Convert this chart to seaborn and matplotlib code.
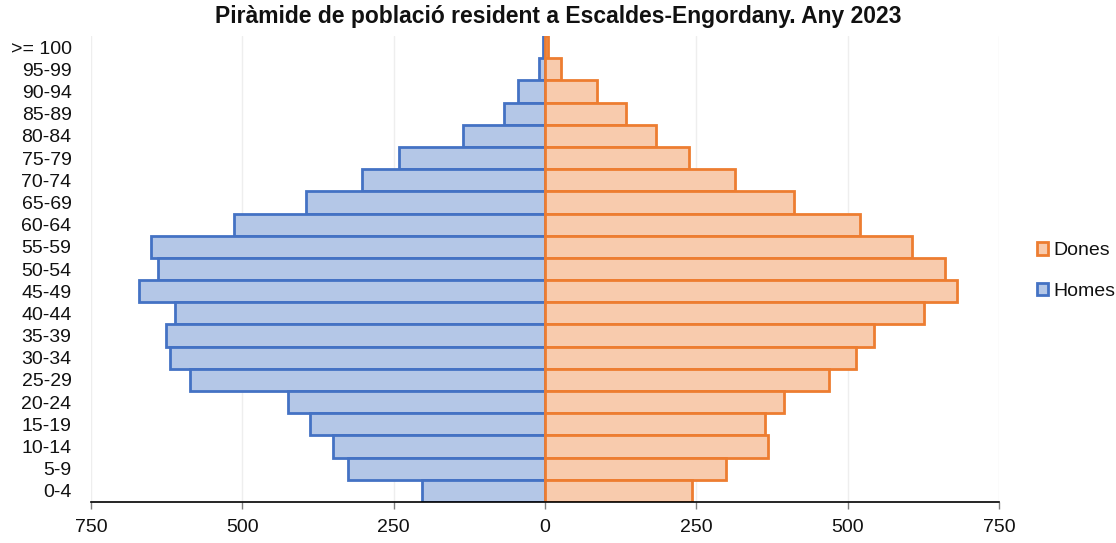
import matplotlib
matplotlib.use("Agg")
import matplotlib.pyplot as plt
from matplotlib.patches import Patch
import seaborn as sns
import pandas as pd

ages = [">= 100", "95-99", "90-94", "85-89", "80-84", "75-79", "70-74", "65-69",
        "60-64", "55-59", "50-54", "45-49", "40-44", "35-39", "30-34", "25-29",
        "20-24", "15-19", "10-14", "5-9", "0-4"]
homes = [3, 10, 45, 67, 135, 241, 302, 394, 514, 651, 639, 671, 612, 626, 619,
         587, 425, 388, 351, 325, 204]
dones = [5, 27, 86, 133, 184, 238, 314, 412, 520, 606, 660, 680, 626, 544, 513,
         469, 395, 363, 368, 299, 243]
xticks = [-750, -500, -250, 0, 250, 500, 750]
title = "Piràmide de població resident a Escaldes-Engordany. Any 2023"

sns.set_theme(style="white")
plt.rcParams["font.family"] = ["Liberation Sans", "DejaVu Sans"]

df_h = pd.DataFrame({"age": ages, "value": [-v for v in homes]})
df_d = pd.DataFrame({"age": ages, "value": dones})

fig = plt.figure(figsize=(11.16, 5.43), dpi=100)
ax = fig.add_axes([91 / 1116, 1 - 502 / 543, (999 - 91) / 1116, (502 - 36) / 543])

blue_edge, blue_fill = "#4472C4", "#B4C7E7"
orange_edge, orange_fill = "#ED7D31", "#F8CBAD"

sns.barplot(data=df_h, x="value", y="age", order=ages, orient="h", ax=ax,
            color=blue_fill, edgecolor=blue_edge, linewidth=2.0, width=1.0,
            saturation=1, zorder=2)
sns.barplot(data=df_d, x="value", y="age", order=ages, orient="h", ax=ax,
            color=orange_fill, edgecolor=orange_edge, linewidth=2.0, width=1.0,
            saturation=1, zorder=3)

ax.set_xlim(-750, 750)
ax.set_ylim(len(ages) - 0.5, -0.5)
ax.set_xticks(xticks)
ax.set_xticklabels([str(abs(t)) for t in xticks], fontsize=14, color="#111111")
ax.tick_params(axis="y", labelsize=14, length=0, pad=14, labelcolor="#111111")
ax.tick_params(axis="x", bottom=True, length=5, width=1, color="#808080", pad=7)
ax.set_xlabel("")
ax.set_ylabel("")
ax.xaxis.grid(True, color="#EEEEEE", linewidth=1, zorder=0)
ax.set_axisbelow(True)
for s in ["top", "right", "left"]:
    ax.spines[s].set_visible(False)
ax.spines["bottom"].set_color("black")
ax.spines["bottom"].set_linewidth(1.2)
ax.spines["bottom"].set_zorder(5)

fig.text(0.5, 1 - 17 / 543, title, ha="center", va="center",
         fontsize=16.5, fontweight="bold", color="#111111")

handles = [Patch(facecolor=orange_fill, edgecolor=orange_edge, linewidth=2),
           Patch(facecolor=blue_fill, edgecolor=blue_edge, linewidth=2)]
fig.legend(handles, ["Dones", "Homes"], loc="center left",
           bbox_to_anchor=(1027 / 1116, 1 - 271 / 543), frameon=False,
           fontsize=14, handlelength=0.6, handleheight=0.6, handletextpad=0.25,
           labelspacing=1.2, borderpad=0, labelcolor="#111111")

fig.savefig("out.png", dpi=100)
